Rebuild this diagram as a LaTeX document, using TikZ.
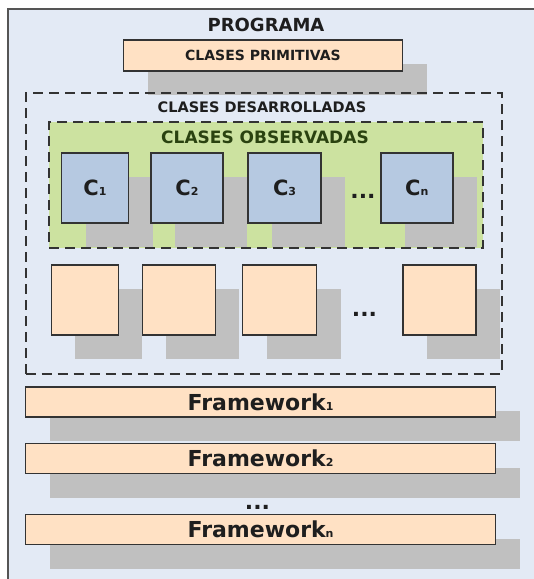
\documentclass[tikz,border=0pt]{standalone}
\usepackage{fontspec}
\setmainfont{DejaVu Sans}
\usetikzlibrary{shadows}
\definecolor{bgblue}{HTML}{E3EAF5}
\definecolor{framecol}{HTML}{555555}
\definecolor{boxline}{HTML}{333333}
\definecolor{peach}{HTML}{FFE1C4}
\definecolor{cblue}{HTML}{B6C9E1}
\definecolor{obsgreen}{HTML}{CCE2A0}
\definecolor{shadowgray}{HTML}{C0C0C0}
\definecolor{txt}{HTML}{1E1E1E}
\definecolor{obstxt}{HTML}{2A4210}
\newcommand{\fs}[1]{\fontsize{#1}{#1}\selectfont}
\tikzset{
  shadowed/.style={general shadow={fill=shadowgray, shadow xshift=24pt, shadow yshift=-24pt}},
  boxbase/.style={draw=boxline, line width=1.5pt, inner sep=0pt, text=txt, font=\bfseries, shadowed},
  peachbox/.style={boxbase, fill=peach},
  cbox/.style={boxbase, fill=cblue, minimum height=70pt, font=\bfseries\fs{21}},
  sqbox/.style={boxbase, fill=peach, minimum height=70pt},
  fwbox/.style={boxbase, fill=peach, minimum width=470pt, minimum height=30pt, font=\bfseries\fs{22}},
  dashbox/.style={draw=boxline, line width=1.8pt, dash pattern=on 10pt off 6pt, inner sep=0pt},
  label/.style={text=txt, font=\bfseries, inner sep=0pt},
  dots/.style={text=txt, font=\bfseries\fs{22}, inner sep=0pt}
}
\begin{document}
\begin{tikzpicture}[x=1pt,y=-1pt]
\useasboundingbox (0,0) rectangle (534,579);
\clip (0,0) rectangle (534,579);
\fill[white] (0,0) rectangle (534,579);
\draw[fill=bgblue, draw=framecol, line width=1.6pt] (8,9) rectangle (545,595);

% title and primitive classes
\node[label, font=\bfseries\fs{18}] (prog) at (266,25) {PROGRAMA};
\node[peachbox, minimum width=279pt, minimum height=31pt, font=\bfseries\fs{14}] (prim) at (263,55.5) {CLASES PRIMITIVAS};

% developed classes
\node[dashbox, minimum width=476pt, minimum height=281pt] (desa) at (263.7,233.5) {};
\node[label, font=\bfseries\fs{14.5}] (desalbl) at (262,107) {CLASES DESARROLLADAS};

% observed classes
\node[dashbox, fill=obsgreen, minimum width=434pt, minimum height=126pt] (obs) at (266.2,185) {};
\node[label, text=obstxt, font=\bfseries\fs{17}] (obslbl) at (265,137) {CLASES OBSERVADAS};

\node[cbox, minimum width=67pt] (c1) at (95,188) {C{\fs{11}1}};
\node[cbox, minimum width=72pt] (c2) at (187,188) {C{\fs{11}2}};
\node[cbox, minimum width=73pt] (c3) at (284.6,188) {C{\fs{11}3}};
\node[dots] (d1) at (363,196) {...};
\node[cbox, minimum width=72pt] (cn) at (416.8,188) {C{\fs{11}n}};

% other developed classes
\node[sqbox, minimum width=67pt] (s1) at (84.8,300) {};
\node[sqbox, minimum width=73pt] (s2) at (178.8,300) {};
\node[sqbox, minimum width=74pt] (s3) at (279.7,300) {};
\node[dots] (d2) at (364.5,314) {...};
\node[sqbox, minimum width=73pt] (s4) at (439.3,300) {};

% frameworks
\node[fwbox] (fw1) at (260.6,402) {Framework{\fs{11}1}};
\node[fwbox] (fw2) at (260.6,458.5) {Framework{\fs{11}2}};
\node[dots] (d3) at (257.5,507) {...};
\node[fwbox] (fwn) at (260.6,529.5) {Framework{\fs{11}n}};
\end{tikzpicture}
\end{document}
